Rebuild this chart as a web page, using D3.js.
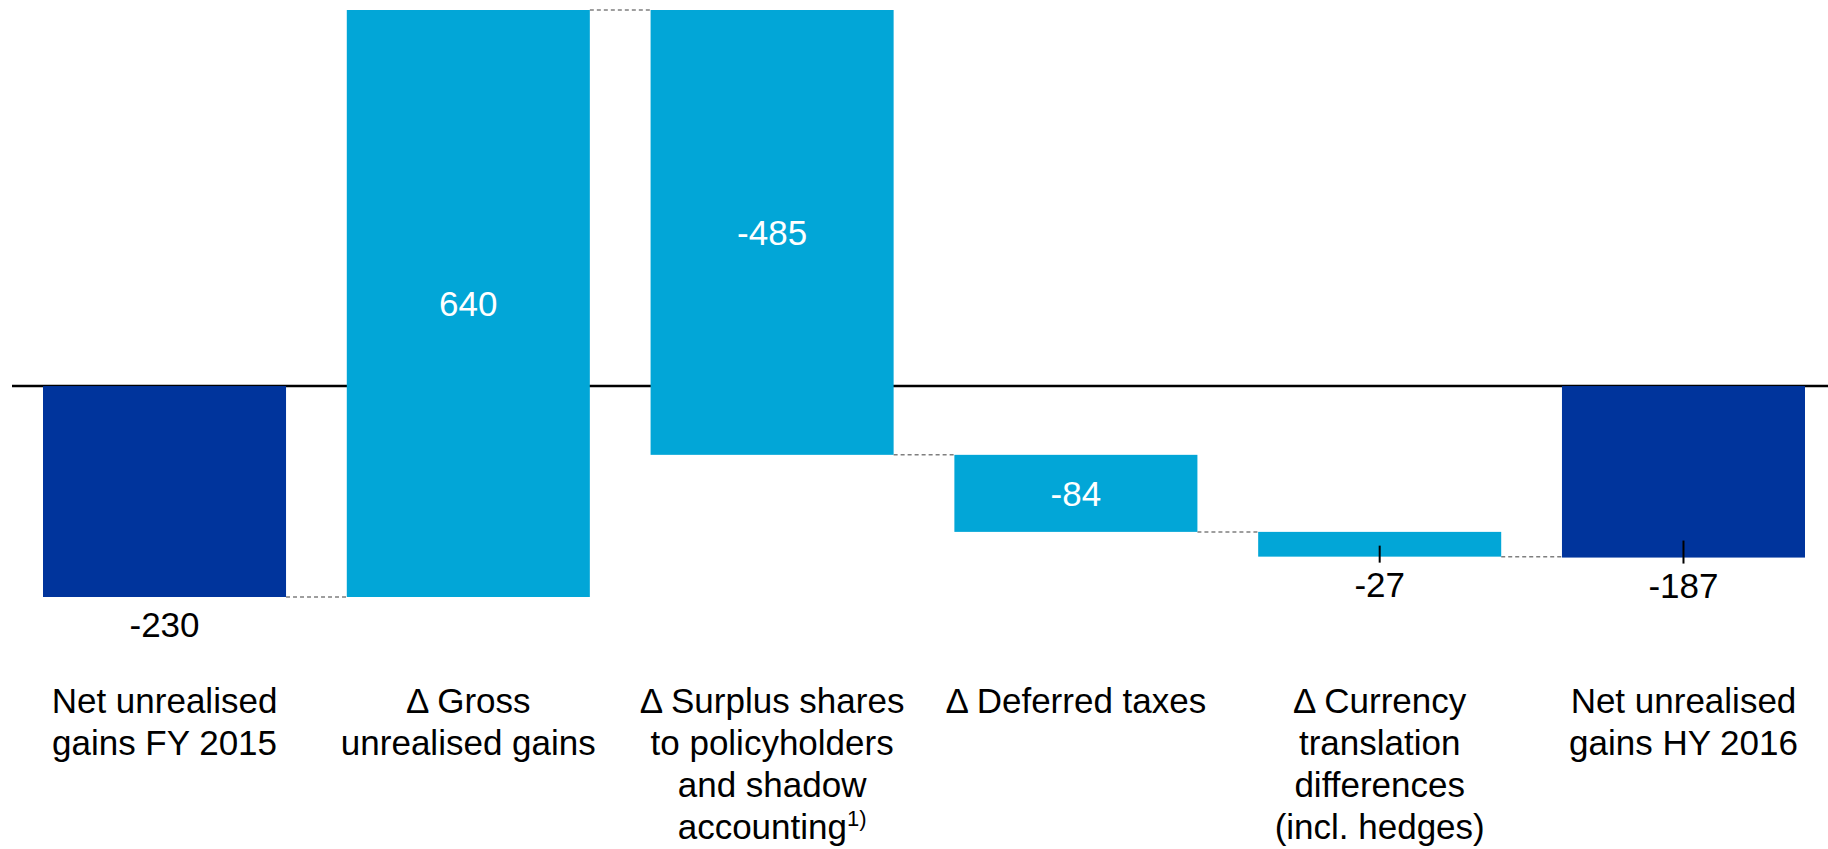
<!DOCTYPE html>
<html>
<head>
<meta charset="utf-8">
<script src="https://cdn.jsdelivr.net/npm/d3@7/dist/d3.min.js"></script>
<style>
  html, body { margin: 0; padding: 0; background: #ffffff; }
  svg { display: block; }
  text { font-family: "Liberation Sans", Arial, Helvetica, sans-serif; }
</style>
</head>
<body>
<svg id="chart" width="1828" height="849"></svg>
<script>
// Waterfall: net unrealised gains, FY 2015 -> HY 2016 (EUR m)
const categories = [
  ["Net unrealised", "gains FY 2015"],
  ["\u0394 Gross", "unrealised gains"],
  ["\u0394 Surplus shares", "to policyholders", "and shadow", "accounting"],
  ["\u0394 Deferred taxes"],
  ["\u0394 Currency", "translation", "differences", "(incl. hedges)"],
  ["Net unrealised", "gains HY 2016"]
];
const values = [-230, 640, -485, -84, -27, -187];
const kinds = ["total", "delta", "delta", "delta", "delta", "total"];
const footnotes = ["", "", "1)", "", "", ""];
const labelInside = [false, true, true, true, false, false];
const leaderTicks = [0, 0, 0, 0, 11, 17];

const colors = { total: "#00349C", delta: "#02A6D7" };

const W = 1828, H = 849;
const svg = d3.select("#chart");

// Build floating segments from running total
let running = 0;
const bars = values.map((v, i) => {
  let start, end;
  if (kinds[i] === "total") { start = 0; end = v; running = v; }
  else { start = running; end = running + v; running = end; }
  return { i, value: v, start, end, kind: kinds[i], lines: categories[i] };
});

const x = d3.scaleBand()
  .domain(d3.range(values.length))
  .range([43, 1805])
  .paddingInner(0.2)
  .paddingOuter(0);

const y = d3.scaleLinear()
  .domain([-230, 410])
  .range([597, 10]);

// zero line
svg.append("line")
  .attr("x1", 12).attr("x2", W)
  .attr("y1", y(0)).attr("y2", y(0))
  .attr("stroke", "#000").attr("stroke-width", 2.4);

// connectors between consecutive bars
const connectors = bars.slice(0, -1).map((b, k) => ({
  x1: x(k) + x.bandwidth(),
  x2: x(k + 1),
  level: b.end
}));
svg.append("g").selectAll("line")
  .data(connectors)
  .join("line")
  .attr("x1", d => d.x1).attr("x2", d => d.x2)
  .attr("y1", d => y(d.level)).attr("y2", d => y(d.level))
  .attr("stroke", "#7f7f7f")
  .attr("stroke-width", 1.5)
  .attr("stroke-dasharray", "4,3");

// bars
svg.append("g").selectAll("rect")
  .data(bars)
  .join("rect")
  .attr("x", d => x(d.i))
  .attr("width", x.bandwidth())
  .attr("y", d => y(Math.max(d.start, d.end)))
  .attr("height", d => Math.abs(y(d.start) - y(d.end)))
  .attr("fill", d => colors[d.kind]);

// short leader marks for labels placed under thin bars
svg.append("g").selectAll("line")
  .data(bars.filter(d => leaderTicks[d.i] > 0))
  .join("line")
  .attr("x1", d => x(d.i) + x.bandwidth() / 2)
  .attr("x2", d => x(d.i) + x.bandwidth() / 2)
  .attr("y1", d => y(Math.min(d.start, d.end)) - leaderTicks[d.i])
  .attr("y2", d => y(Math.min(d.start, d.end)) + 6)
  .attr("stroke", "#000")
  .attr("stroke-width", 2);

// value labels (plain hyphen as minus sign)
const fs = 35;
svg.append("g").selectAll("text")
  .data(bars)
  .join("text")
  .attr("x", d => x(d.i) + x.bandwidth() / 2)
  .attr("y", d => labelInside[d.i]
    ? (y(d.start) + y(d.end)) / 2 + fs * 0.36
    : y(Math.min(d.start, d.end)) + 40)
  .attr("text-anchor", "middle")
  .attr("font-size", fs)
  .attr("fill", d => labelInside[d.i] ? "#ffffff" : "#000000")
  .text(d => String(d.value));

// category labels
const lineH = 42;
const catG = svg.append("g");
bars.forEach(d => {
  const t = catG.append("text")
    .attr("x", x(d.i) + x.bandwidth() / 2)
    .attr("y", 713)
    .attr("text-anchor", "middle")
    .attr("font-size", fs)
    .attr("fill", "#000");
  d.lines.forEach((ln, j) => {
    const ts = t.append("tspan")
      .attr("x", x(d.i) + x.bandwidth() / 2)
      .attr("dy", j === 0 ? 0 : lineH)
      .text(ln);
    if (j === d.lines.length - 1 && footnotes[d.i]) {
      // footnote marker raised on the last line
      ts.append("tspan")
        .attr("font-size", 22)
        .attr("dy", -13)
        .text(footnotes[d.i]);
    }
  });
});
</script>
</body>
</html>
